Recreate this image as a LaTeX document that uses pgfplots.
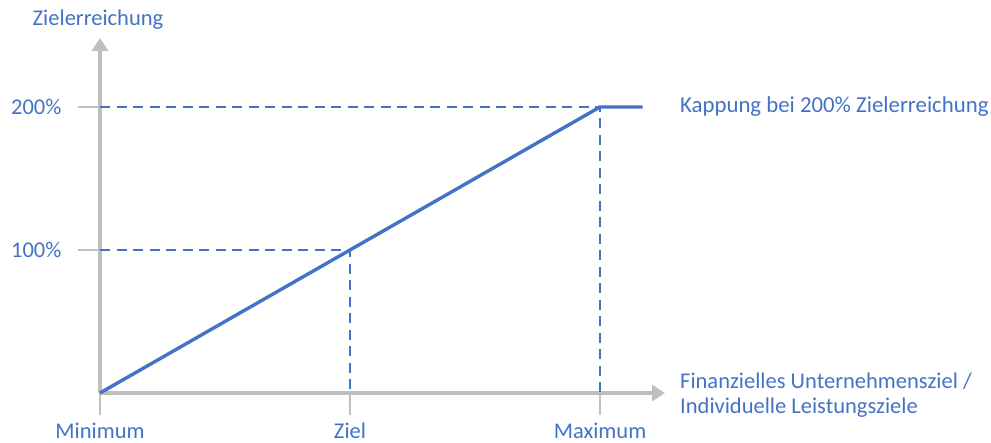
\documentclass[border=0pt]{standalone}
\usepackage{fontspec}
\setmainfont{Carlito}
\usepackage{pgfplots}
\pgfplotsset{compat=1.18}
\usetikzlibrary{arrows.meta}
\definecolor{cblue}{HTML}{4472C4}
\definecolor{agray}{HTML}{BFBFBF}
\begin{document}
\begin{tikzpicture}
\useasboundingbox (0,0) rectangle (991pt,443pt);
\begin{axis}[
  at={(100pt,50pt)}, anchor=south west,
  scale only axis, width=565pt, height=355pt,
  xmin=0, xmax=2.26, ymin=0, ymax=248.25,
  clip=false,
  axis lines=left,
  axis line style={draw=agray, line width=3.2pt, -{Triangle[length=13pt,width=16pt]}},
  xtick={0,1,2}, xticklabels={Minimum,Ziel,Maximum},
  ytick={100,200}, yticklabels={100\%,200\%},
  tick align=outside, major tick length=22pt,
  every tick/.style={draw=agray, line width=2.8pt},
  every major tick/.append style={draw=agray, line width=2.8pt},
  xtick style={draw=agray, line width=2.8pt},
  ytick style={draw=agray, line width=2.8pt},
  ticklabel style={font=\fontsize{22.5}{26}\selectfont, text=cblue},
  xticklabel style={yshift=-4.5pt},
  yticklabel style={xshift=-13pt},
]
\addplot[cblue, line width=2.6pt, dash pattern=on 10pt off 6.5pt] coordinates {(0,200) (2,200) (2,0)};
\addplot[cblue, line width=2.6pt, dash pattern=on 10pt off 6.5pt] coordinates {(0,100) (1,100) (1,0)};
\addplot[cblue, line width=3.4pt] coordinates {(0,0) (2,200) (2.17,200)};
\node[anchor=west, text=cblue, font=\fontsize{22.8}{26}\selectfont, inner sep=0pt] at (axis cs:2.32,200) {Kappung bei 200\% Zielerreichung};
\node[anchor=west, text=cblue, font=\fontsize{22.5}{25}\selectfont, inner sep=0pt, align=left] at (axis cs:2.32,-1.4) {Finanzielles Unternehmensziel /\\Individuelle Leistungsziele};
\end{axis}
\node[text=cblue, font=\fontsize{22.5}{26}\selectfont, inner sep=0pt] at (98pt,423pt) {Zielerreichung};
\end{tikzpicture}
\end{document}
